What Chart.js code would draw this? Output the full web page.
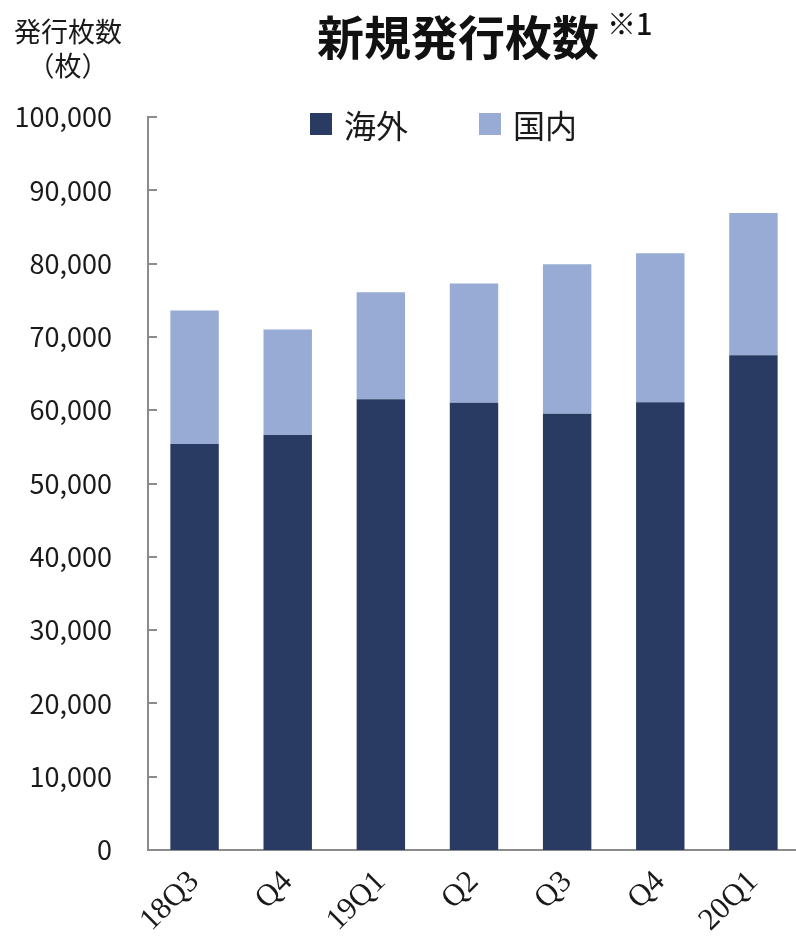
<!DOCTYPE html>
<html lang="ja">
<head>
<meta charset="utf-8">
<title>新規発行枚数</title>
<script src="https://cdn.jsdelivr.net/npm/chart.js@4.4.1/dist/chart.umd.min.js"></script>
<style>
  html, body { margin: 0; padding: 0; background: #fff; overflow: hidden; }
  #wrap { position: relative; width: 796px; height: 938px; overflow: hidden; font-family: "Noto Sans CJK JP", sans-serif; color: #1a1a1a; }
  #chart { position: absolute; left: 0; top: 0; }
  #title { position: absolute; left: 317px; top: 2px; font-size: 47px; font-weight: 700; color: #111; white-space: nowrap; line-height: 66px; }
  #title sup { font-size: 29px; font-weight: 500; position: relative; top: 0px; vertical-align: top; line-height: 40px; margin-left: 8px; }
  #unit { position: absolute; left: 8px; top: 14px; font-size: 27px; line-height: 34px; text-align: center; width: 120px; }
  #legend { position: absolute; top: 102px; left: 310px; display: flex; font-size: 32px; line-height: 44px; }
  #legend .item { display: flex; align-items: center; margin-right: 71px; }
  #legend .box { width: 22px; height: 22px; margin-right: 12px; }
</style>
</head>
<body>
<div id="wrap">
  <canvas id="chart" width="800" height="938"></canvas>
  <div id="title">新規発行枚数<sup>※1</sup></div>
  <div id="unit">発行枚数<br>（枚）</div>
  <div id="legend"></div>
</div>
<script>
const quarters = ['18Q3', 'Q4', '19Q1', 'Q2', 'Q3', 'Q4', '20Q1'];
const overseas = [55400, 56600, 61500, 61000, 59500, 61100, 67500];
const domestic = [18200, 14400, 14600, 16300, 20400, 20300, 19400];
const seriesNames = ['海外', '国内'];
const seriesColors = ['#293b62', '#97abd5'];
const yTicks = [0, 10000, 20000, 30000, 40000, 50000, 60000, 70000, 80000, 90000, 100000];

const axisGray = '#8c8c8c';

// short tick marks pointing into the plot from the y axis
const innerTicks = {
  id: 'innerTicks',
  afterDraw(chart) {
    const ctx = chart.ctx;
    const y = chart.scales.y;
    const x0 = chart.chartArea.left;
    ctx.save();
    ctx.strokeStyle = axisGray;
    ctx.lineWidth = 2;
    yTicks.forEach(v => {
      const py = Math.round(y.getPixelForValue(v));
      ctx.beginPath();
      ctx.moveTo(x0, py);
      ctx.lineTo(x0 + 9, py);
      ctx.stroke();
    });
    ctx.restore();
  }
};

const chart = new Chart(document.getElementById('chart'), {
  type: 'bar',
  data: {
    labels: quarters,
    datasets: [
      { label: seriesNames[0], data: overseas, backgroundColor: seriesColors[0] },
      { label: seriesNames[1], data: domestic, backgroundColor: seriesColors[1] }
    ]
  },
  options: {
    responsive: false,
    animation: false,
    events: [],
    layout: { padding: { top: 117, right: 0, left: 0, bottom: 0 } },
    datasets: { bar: { categoryPercentage: 1, barPercentage: 0.52 } },
    plugins: {
      legend: { display: false },
      tooltip: { enabled: false }
    },
    scales: {
      x: {
        stacked: true,
        grid: { display: false, drawTicks: false },
        border: { color: axisGray, width: 2 },
        ticks: {
          color: '#1a1a1a',
          font: { family: 'Liberation Serif', size: 31 },
          minRotation: 45,
          maxRotation: 45,
          padding: 14
        },
        afterFit(scale) { scale.height = 88; }
      },
      y: {
        stacked: true,
        min: 0,
        max: 100000,
        grid: { display: false, drawTicks: false },
        border: { color: axisGray, width: 2 },
        afterBuildTicks(scale) { scale.ticks = yTicks.map(v => ({ value: v })); },
        ticks: {
          color: '#1a1a1a',
          font: { family: 'Noto Sans CJK JP', size: 27 },
          padding: 36,
          callback: v => v.toLocaleString('en-US')
        },
        afterFit(scale) { scale.width = 148; }
      }
    }
  },
  plugins: [innerTicks]
});

// legend squares and names taken from the datasets
const legend = document.getElementById('legend');
chart.data.datasets.forEach(ds => {
  const item = document.createElement('div');
  item.className = 'item';
  const box = document.createElement('span');
  box.className = 'box';
  box.style.background = ds.backgroundColor;
  const name = document.createElement('span');
  name.textContent = ds.label;
  item.appendChild(box);
  item.appendChild(name);
  legend.appendChild(item);
});
</script>
</body>
</html>
